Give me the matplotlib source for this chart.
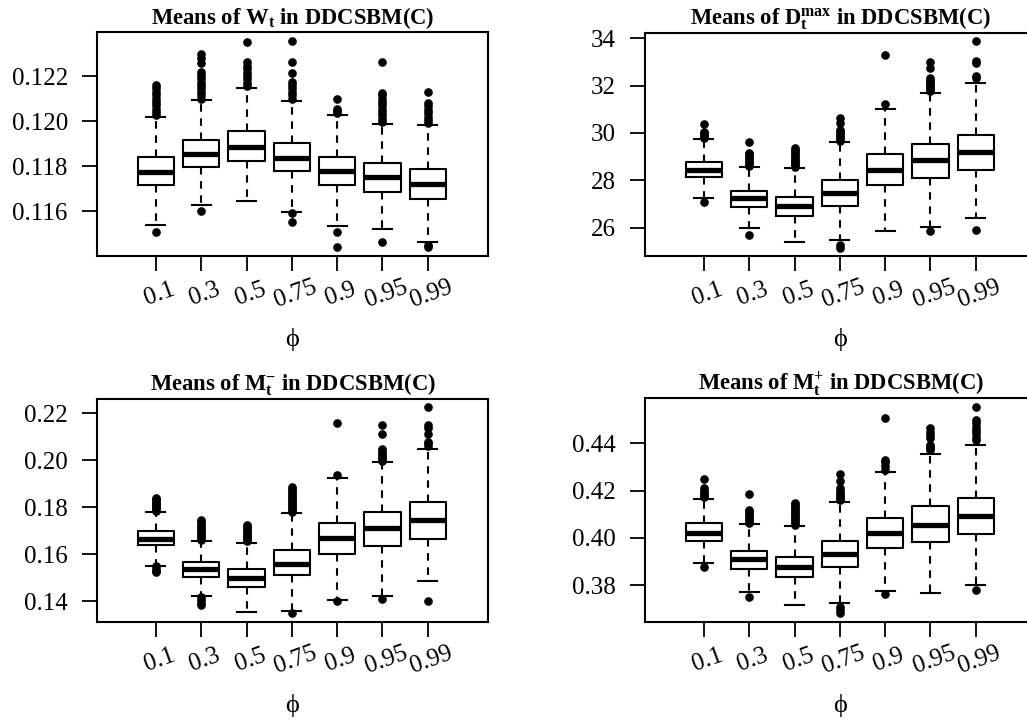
import matplotlib
matplotlib.use("Agg")
import matplotlib.pyplot as plt

plt.rcParams['font.family'] = ['Liberation Serif', 'DejaVu Serif']
plt.rcParams['mathtext.fontset'] = 'custom'
plt.rcParams['mathtext.rm'] = 'Liberation Serif'
plt.rcParams['mathtext.bf'] = 'Liberation Serif:bold'
plt.rcParams['mathtext.it'] = 'Liberation Serif:italic'

categories = ["0.1", "0.3", "0.5", "0.75", "0.9", "0.95", "0.99"]

# ---- Panel 1: Means of W_t ----
w_q1 = [0.11716, 0.11794, 0.11824, 0.11778, 0.11714, 0.11686, 0.11653]
w_med = [0.11772, 0.11852, 0.11884, 0.11837, 0.11776, 0.11751, 0.11721]
w_q3 = [0.1184, 0.11917, 0.11954, 0.11904, 0.11841, 0.11812, 0.11787]
w_lo = [0.11536, 0.11628, 0.11646, 0.11596, 0.11533, 0.11522, 0.11461]
w_hi = [0.12018, 0.12092, 0.12145, 0.1209, 0.12027, 0.11988, 0.11984]
w_out = [
    [0.12025, 0.1204, 0.12055, 0.1207, 0.12085, 0.121, 0.12115, 0.1213, 0.12145, 0.1216, 0.11508],
    [0.121, 0.12115, 0.1213, 0.12145, 0.1216, 0.12175, 0.1219, 0.12205, 0.1222, 0.1226, 0.1228, 0.12296, 0.11601],
    [0.12155, 0.1217, 0.12185, 0.122, 0.12215, 0.1223, 0.12245, 0.12262, 0.12351],
    [0.121, 0.12115, 0.1213, 0.12145, 0.1216, 0.12175, 0.12212, 0.12262, 0.12356, 0.1159, 0.1155],
    [0.12035, 0.12045, 0.12055, 0.12099, 0.11508, 0.11442],
    [0.11995, 0.1201, 0.12025, 0.1204, 0.12055, 0.1207, 0.12085, 0.121, 0.12115, 0.12123, 0.12264, 0.11464],
    [0.1199, 0.12005, 0.1202, 0.12035, 0.1205, 0.12065, 0.12079, 0.1213, 0.11442, 0.11448],
]
w_ticks = [0.116, 0.118, 0.120, 0.122]
w_ticklabels = ["0.116", "0.118", "0.120", "0.122"]

# ---- Panel 2: Means of D_t^max ----
d_q1 = [28.14, 26.89, 26.49, 26.93, 27.79, 28.10, 28.42]
d_med = [28.437, 27.23, 26.92, 27.45, 28.44, 28.85, 29.21]
d_q3 = [28.775, 27.56, 27.30, 28.01, 29.10, 29.55, 29.93]
d_lo = [27.25, 25.99, 25.38, 25.46, 25.87, 26.03, 26.42]
d_hi = [29.73, 28.58, 28.51, 29.62, 31.0, 31.70, 32.10]
d_out = [
    [29.78, 29.85, 29.92, 30.0, 30.05, 30.37, 27.08],
    [28.62, 28.7, 28.78, 28.86, 28.94, 29.02, 29.1, 29.14, 29.61, 25.69],
    [28.55, 28.63, 28.71, 28.79, 28.87, 28.95, 29.03, 29.11, 29.19, 29.27, 29.35],
    [29.66, 29.74, 29.82, 29.9, 29.98, 30.06, 30.13, 30.41, 30.62, 25.27, 25.13],
    [31.23, 33.30],
    [31.76, 31.84, 31.92, 32.0, 32.08, 32.16, 32.24, 32.31, 32.73, 33.01, 25.87],
    [32.3, 32.4, 32.95, 33.05, 33.9, 25.9],
]
d_ticks = [26, 28, 30, 32, 34]
d_ticklabels = ["26", "28", "30", "32", "34"]

# ---- Panel 3: Means of M_t^- ----
mm_q1 = [0.16373, 0.15037, 0.14597, 0.15108, 0.16004, 0.16359, 0.16657]
mm_med = [0.16657, 0.1535, 0.14966, 0.15577, 0.16671, 0.17098, 0.17453]
mm_q3 = [0.1697, 0.15663, 0.15378, 0.16174, 0.17311, 0.17794, 0.18206]
mm_lo = [0.15506, 0.14227, 0.13517, 0.13574, 0.14043, 0.14227, 0.14838]
mm_hi = [0.17808, 0.16558, 0.16487, 0.17737, 0.19229, 0.19925, 0.20494]
mm_out = [
    [0.1785, 0.1792, 0.1799, 0.1806, 0.1813, 0.182, 0.1827, 0.1834, 0.1838, 0.1548, 0.1538, 0.1530, 0.1522],
    [0.1662, 0.167, 0.1678, 0.1686, 0.1694, 0.1702, 0.171, 0.1718, 0.1726, 0.1735, 0.1745, 0.1418, 0.1405, 0.1393, 0.1383],
    [0.1655, 0.1663, 0.1671, 0.1679, 0.1687, 0.1695, 0.1703, 0.1711, 0.1718, 0.1724],
    [0.178, 0.1788, 0.1796, 0.1804, 0.1812, 0.182, 0.1828, 0.1836, 0.1844, 0.1852, 0.186, 0.1868, 0.1876, 0.1884, 0.13474],
    [0.19371, 0.21574, 0.1400],
    [0.1998, 0.2006, 0.2014, 0.2022, 0.203, 0.2038, 0.2047, 0.2112, 0.2149, 0.141],
    [0.2062, 0.2072, 0.2080, 0.2112, 0.2136, 0.2150, 0.2228, 0.14014],
]
mm_ticks = [0.14, 0.16, 0.18, 0.20, 0.22]
mm_ticklabels = ["0.14", "0.16", "0.18", "0.20", "0.22"]

# ---- Panel 4: Means of M_t^+ ----
mp_q1 = [0.39878, 0.38692, 0.38353, 0.38749, 0.39553, 0.39836, 0.4016]
mp_med = [0.40217, 0.39087, 0.38762, 0.39313, 0.40217, 0.40556, 0.40923]
mp_q3 = [0.40612, 0.39454, 0.392, 0.39878, 0.40852, 0.41346, 0.41685]
mp_lo = [0.38918, 0.37718, 0.37153, 0.37252, 0.37746, 0.37647, 0.38]
mp_hi = [0.41657, 0.40584, 0.40485, 0.41529, 0.42772, 0.43548, 0.43944]
mp_out = [
    [0.4172, 0.4179, 0.4186, 0.4193, 0.42, 0.4209, 0.42475, 0.38749],
    [0.4064, 0.4072, 0.408, 0.4088, 0.4096, 0.4104, 0.4112, 0.4118, 0.4184, 0.37478],
    [0.4054, 0.4062, 0.407, 0.4078, 0.4086, 0.4094, 0.4102, 0.411, 0.4118, 0.4126, 0.4134, 0.4142, 0.4146],
    [0.4158, 0.4166, 0.4174, 0.4182, 0.419, 0.4198, 0.4209, 0.4242, 0.427, 0.3708, 0.3694, 0.368],
    [0.4289, 0.4305, 0.4320, 0.4329, 0.45059, 0.37605],
    [0.4372, 0.438, 0.4388, 0.4393, 0.4421, 0.4435, 0.445, 0.4464],
    [0.4414, 0.4428, 0.4442, 0.4456, 0.447, 0.4485, 0.4499, 0.45553, 0.37789],
]
mp_ticks = [0.38, 0.40, 0.42, 0.44]
mp_ticklabels = ["0.38", "0.40", "0.42", "0.44"]

W, H = 1027, 727
fig = plt.figure(figsize=(W / 100, H / 100), dpi=100)


def make_axes(left, top, right, bottom):
    return fig.add_axes([left / W, 1 - bottom / H, (right - left) / W, (bottom - top) / H])


panels = [
    (make_axes(97, 32, 488, 256), r"Means of $\mathbf{W_t}$ in DDCSBM(C)",
     w_q1, w_med, w_q3, w_lo, w_hi, w_out, w_ticks, w_ticklabels, (0.114, 0.12396)),
    (make_axes(645, 32.5, 1036, 256), r"Means of $\mathbf{D_t^{max}}$ in DDCSBM(C)",
     d_q1, d_med, d_q3, d_lo, d_hi, d_out, d_ticks, d_ticklabels, (24.80, 34.24)),
    (make_axes(97, 398.7, 488, 621.7), r"Means of $\mathbf{M_t^{-}}$ in DDCSBM(C)",
     mm_q1, mm_med, mm_q3, mm_lo, mm_hi, mm_out, mm_ticks, mm_ticklabels, (0.13119, 0.22625)),
    (make_axes(645, 398.3, 1036, 621.7), r"Means of $\mathbf{M_t^{+}}$ in DDCSBM(C)",
     mp_q1, mp_med, mp_q3, mp_lo, mp_hi, mp_out, mp_ticks, mp_ticklabels, (0.36447, 0.45906)),
]

positions = list(range(1, len(categories) + 1))

for ax, title, q1, med, q3, lo, hi, out, yt, ytl, ylim in panels:
    stats = []
    for i in range(len(categories)):
        stats.append(dict(q1=q1[i], med=med[i], q3=q3[i], whislo=lo[i], whishi=hi[i],
                          fliers=out[i], label=categories[i]))
    ax.bxp(stats, positions=positions, widths=0.8, showfliers=True,
           capwidths=0.42,
           boxprops=dict(color='black', linewidth=1.5),
           medianprops=dict(color='black', linewidth=3.8, solid_capstyle='butt'),
           whiskerprops=dict(color='black', linewidth=1.5, linestyle=(0, (3.6, 3.2))),
           capprops=dict(color='black', linewidth=1.5),
           flierprops=dict(marker='o', markerfacecolor='black', markeredgecolor='black',
                           markersize=5.2, linestyle='none'))
    ax.set_xlim(-0.30, 8.33)
    ax.set_ylim(*ylim)
    ax.set_yticks(yt)
    ax.set_yticklabels(ytl, fontsize=18)
    ax.set_xticks(positions)
    ax.set_xticklabels(categories, fontsize=18, rotation=20, ha='center',
                       rotation_mode='anchor', va='top')
    ax.tick_params(axis='both', length=11, width=1.3, direction='out', color='black')
    ax.tick_params(axis='x', pad=9)
    ax.tick_params(axis='y', pad=10)
    for s in ax.spines.values():
        s.set_linewidth(1.5)
    ax.set_title(title, fontsize=16.3, fontweight='bold', pad=6)
    ax.annotate("ϕ", xy=(0.5, 0), xycoords='axes fraction', xytext=(0, -60),
                textcoords='offset points', ha='center', va='center', fontsize=19)

fig.savefig("out.png", dpi=100)
